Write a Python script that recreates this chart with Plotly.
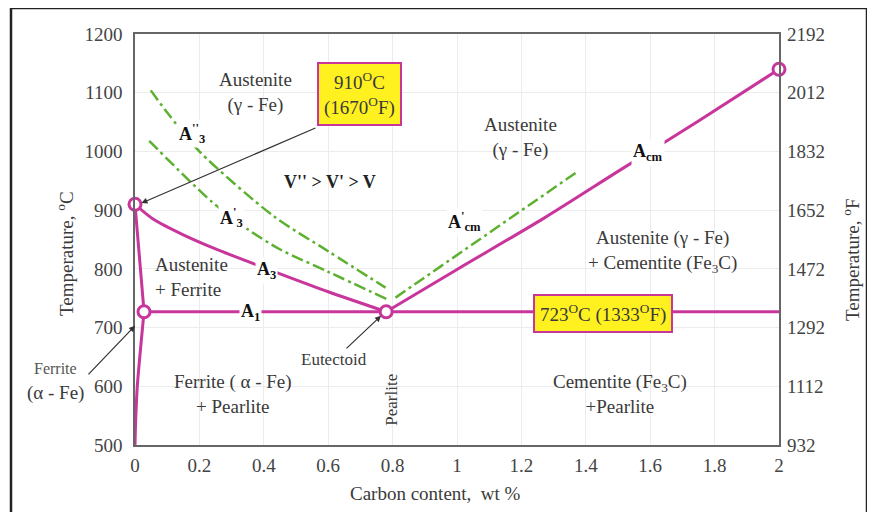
import plotly.graph_objects as go

# ---------------- data ----------------
x_ticks = [0, 0.2, 0.4, 0.6, 0.8, 1.0, 1.2, 1.4, 1.6, 1.8, 2.0]
x_tick_text = ["0", "0.2", "0.4", "0.6", "0.8", "1", "1.2", "1.4", "1.6", "1.8", "2"]
c_ticks = [500, 600, 700, 800, 900, 1000, 1100, 1200]
f_ticks = [932, 1112, 1292, 1472, 1652, 1832, 2012, 2192]

# A3 (austenite / austenite+ferrite boundary)
a3_c = [0.0, 0.056, 0.15, 0.25, 0.348, 0.467, 0.6, 0.78]
a3_t = [910, 885, 858, 834, 813, 788, 761, 727]
# ferrite boundary (910 -> 727)
fe_top_c = [0.0, 0.028]
fe_top_t = [910, 727]
# ferrite solubility (727 -> 500)
fe_sol_c = [0.028, 0.016, 0.007, 0.002, 0.0]
fe_sol_t = [727, 657, 599, 540, 500]
# A1 eutectoid line
a1_c = [0.028, 2.0]
a1_t = [727, 727]
# Acm
acm_c = [0.78, 1.0, 1.269, 1.5, 1.75, 2.0]
acm_t = [727, 799, 886, 966, 1052, 1140]
# shifted lines at higher heating rates
a3p_c = [0.044, 0.239, 0.351, 0.451, 0.6, 0.784]
a3p_t = [1018, 914, 867, 833, 795, 748]
a3pp_c = [0.049, 0.103, 0.202, 0.43, 0.6, 0.778]
a3pp_t = [1104, 1064, 999, 890, 830, 768]
acmp_c = [0.809, 1.378]
acmp_t = [751, 967]
# key points
pts_c = [0.0, 0.028, 0.78, 2.0]
pts_t = [910, 727, 727, 1140]

MAG = "#C8359B"
GRN = "#5DB030"
FONT = "Liberation Serif"
TXT = "#3a3a3a"

# plot-area geometry in window pixels (page body has an 8px margin)
PL, PR, PT, PB = 135, 779, 34, 445
PW, PH = PR - PL, PB - PT
OFF = 8

def px(xp):
    return (xp - PL) / PW

def py(yp):
    return (PB - yp) / PH

fig = go.Figure()

def mline(x, y, shape="linear"):
    fig.add_trace(go.Scatter(x=x, y=y, mode="lines",
                             line=dict(color=MAG, width=3, shape=shape, smoothing=0.8),
                             hoverinfo="skip", showlegend=False))

def gline(x, y, shape="linear"):
    fig.add_trace(go.Scatter(x=x, y=y, mode="lines",
                             line=dict(color=GRN, width=2.5, dash="12px,4px,3px,4px",
                                       shape=shape, smoothing=0.8),
                             hoverinfo="skip", showlegend=False))

gline(a3p_c, a3p_t, "spline")
gline(a3pp_c, a3pp_t, "spline")
gline(acmp_c, acmp_t)
mline(a3_c, a3_t, "spline")
mline(fe_top_c, fe_top_t)
mline(fe_sol_c, fe_sol_t, "spline")
mline(a1_c, a1_t)
mline(acm_c, acm_t, "spline")

fig.add_trace(go.Scatter(x=pts_c, y=pts_t, mode="markers",
                         marker=dict(size=12, color="white", line=dict(color=MAG, width=3)),
                         hoverinfo="skip", showlegend=False, cliponaxis=False))

# invisible trace to activate the °F axis
fig.add_trace(go.Scatter(x=[None], y=[None], yaxis="y2", showlegend=False, hoverinfo="skip"))

ann = []

def label(x, y, text, size=19, bold=False, bg=None, color=TXT, **kw):
    t = f"<b>{text}</b>" if bold else text
    d = dict(x=x, y=y, xref="x", yref="y", text=t, showarrow=False,
             xanchor="center", yanchor="middle",
             font=dict(family=FONT, size=size, color=color))
    if bg:
        d.update(bgcolor=bg, borderpad=1)
    d.update(kw)
    ann.append(d)

def plabel(xp, yp, text, size=19, color=TXT, **kw):
    d = dict(x=px(xp), y=py(yp), xref="paper", yref="paper", text=text, showarrow=False,
             xanchor="center", yanchor="middle",
             font=dict(family=FONT, size=size, color=color))
    d.update(kw)
    ann.append(d)

label(0.373, 1101, "Austenite<br>(γ - Fe)")
label(1.196, 1023, "Austenite<br>(γ - Fe)")
label(0.177, 1031, "A<sup>''</sup><sub>3</sub>", size=18, bold=True, color="#111", bg="white")
label(0.301, 887, "A<sup>'</sup><sub>3</sub>", size=18, bold=True, color="#111", bg="white")
label(0.407, 798, "A<sub>3</sub>", size=18, bold=True, color="#111", bg="white")
label(0.36, 725, "A<sub>1</sub>", size=18, bold=True, color="#111", bg="white")
label(1.593, 999, "A<sub>cm</sub>", size=18, bold=True, color="#111", bg="white")
label(1.022, 880, "A<sup>'</sup><sub>cm</sub>", size=18, bold=True, color="#111", bg="white")
label(0.606, 948, "V'' > V' > V", size=18, bold=True, color="#222")
label(0.056, 786, "Austenite<br>+ Ferrite", xanchor="left", align="left")
label(0.304, 587, "Ferrite ( α - Fe)<br>+ Pearlite")
label(0.618, 645, "Eutectoid", size=17)
label(0.798, 577, "Pearlite", size=17, textangle=-90)
label(1.637, 829, "Austenite (γ - Fe)<br>+ Cementite (Fe<sub>3</sub>C)")
label(1.506, 587, "Cementite (Fe<sub>3</sub>C)<br>+Pearlite")

# yellow boxes
label(0.697, 1098, "910<sup>O</sup>C<br>(1670<sup>O</sup>F)", bg="#FFF01F",
      bordercolor=MAG, borderwidth=2)
ann[-1]["borderpad"] = 5
label(1.453, 724, "723<sup>O</sup>C (1333<sup>O</sup>F)", bg="#FFF01F",
      bordercolor=MAG, borderwidth=2)
ann[-1]["borderpad"] = 5

# arrows
ann.append(dict(x=0.02, y=912, xref="x", yref="y", ax=0.565, ay=1041, axref="x", ayref="y",
                text="", showarrow=True, arrowhead=2, arrowsize=1, arrowwidth=1.2, arrowcolor="#333"))
ann.append(dict(x=0.0, y=703, xref="x", yref="y", ax=-48, ay=50,
                text="", showarrow=True, arrowhead=2, arrowsize=1, arrowwidth=1.2, arrowcolor="#333"))
ann.append(dict(x=0.764, y=720, xref="x", yref="y", ax=-36, ay=34,
                text="", showarrow=True, arrowhead=2, arrowsize=1, arrowwidth=1.2, arrowcolor="#333"))

# outside labels
plabel(55, 368, "Ferrite", size=16, color="#555")
plabel(55, 393, "(α - Fe)", size=19)

# axis titles
plabel(65, 254, "Temperature, <sup>o</sup>C", textangle=-90)
plabel(851, 260, "Temperature, <sup>o</sup>F", textangle=-90)
plabel(435, 493, "Carbon content,  wt %")

fig.update_layout(
    width=875, height=512,
    margin=dict(l=PL - OFF, r=875 + OFF - PR, t=PT - OFF, b=512 + OFF - PB, autoexpand=False),
    paper_bgcolor="white", plot_bgcolor="white",
    showlegend=False,
    font=dict(family=FONT, size=19, color="#444"),
    xaxis=dict(range=[0, 2], tickvals=x_ticks, ticktext=x_tick_text, showgrid=True,
               gridcolor="#ececec", gridwidth=1, zeroline=False, showline=True,
               linecolor="#666", linewidth=1.5, mirror=True, ticks="",
               ticklabelstandoff=2, automargin=False,
               tickfont=dict(family=FONT, size=19, color="#444")),
    yaxis=dict(range=[500, 1200], tickvals=c_ticks, showgrid=True, gridcolor="#ececec",
               zeroline=False, showline=True, linecolor="#666", linewidth=1.5, mirror=True,
               ticks="", ticklabelstandoff=7, automargin=False,
               tickfont=dict(family=FONT, size=19, color="#444")),
    yaxis2=dict(range=[932, 2192], tickvals=f_ticks, overlaying="y", side="right",
                showgrid=False, zeroline=False, showline=False, ticks="",
                ticklabelstandoff=7, automargin=False,
                tickfont=dict(family=FONT, size=19, color="#444")),
    annotations=ann,
    shapes=[dict(type="rect", xref="paper", yref="paper",
                 x0=px(11), x1=px(867), y0=py(540), y1=py(8),
                 line=dict(color="#222", width=2.5), fillcolor="rgba(0,0,0,0)")],
)

fig.write_html("out.html")
